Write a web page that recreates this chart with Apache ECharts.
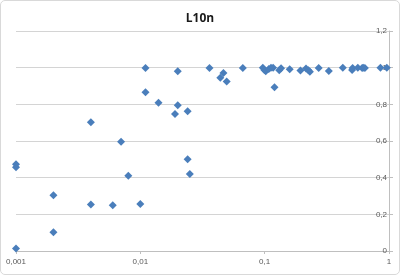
<!DOCTYPE html>
<html><head><meta charset="utf-8">
<script src="https://cdn.jsdelivr.net/npm/echarts@6/dist/echarts.min.js"></script>
<style>html,body{margin:0;padding:0;background:#fff}#c{width:400px;height:275px;box-sizing:border-box;border:1px solid #d9d9d9;border-radius:5px;overflow:hidden}</style>
</head><body><div id="c"></div>
<script>
const title = "L10n";
const xValues = [0.001,0.001,0.001,0.002,0.002,0.004,0.004,0.006,0.007,0.008,0.01,0.011,0.011,0.014,0.019,0.020,0.020,0.024,0.024,0.025,0.036,0.044,0.0466,0.0495,0.0667,0.0966,0.0995,0.102,0.108,0.1125,0.117,0.12,0.131,0.1355,0.159,0.194,0.215,0.225,0.231,0.272,0.328,0.425,0.505,0.51,0.561,0.608,0.62,0.64,0.853,0.96];
const yValues = [0.473,0.457,0.013,0.304,0.102,0.702,0.253,0.249,0.596,0.411,0.256,0.998,0.866,0.809,0.747,0.980,0.795,0.762,0.500,0.420,0.998,0.945,0.971,0.924,0.998,1.0,0.987,0.980,0.993,1.0,1.0,0.893,0.986,0.997,0.991,0.984,0.995,0.986,0.978,0.998,0.982,1.0,0.987,0.998,1.0,0.998,1.0,0.998,1.0,1.0];
const yTicks = [0,0.2,0.4,0.6,0.8,1,1.2];

const points = xValues.map((x,i)=>[x,yValues[i]]);
const fmt = v => String(+v.toFixed(3)).replace('.', ',');
const chart = echarts.init(document.getElementById('c'), null, {renderer:'canvas'});
chart.setOption({
  animation:false,
  title:{text:title,left:'center',top:7,textStyle:{fontFamily:'Open Sans',fontSize:12,fontWeight:'bold',color:'#1a1a1a'}},
  grid:{left:15,right:10,top:30,bottom:23},
  xAxis:{type:'log',logBase:10,min:0.001,max:1,
    axisLine:{show:true,onZero:false,lineStyle:{color:'#bfbfbf'}},
    axisTick:{show:true,length:3,lineStyle:{color:'#bfbfbf'}},
    minorTick:{show:false},
    splitLine:{show:false},
    axisLabel:{fontFamily:'Liberation Sans',fontSize:8,color:'#595959',margin:7,formatter:fmt}},
  yAxis:{type:'value',position:'right',min:0,max:1.2,interval:0.2,
    axisLine:{show:true,lineStyle:{color:'#bfbfbf'}},
    axisTick:{show:true,length:4,lineStyle:{color:'#bfbfbf'}},
    splitLine:{show:true,lineStyle:{color:'#d4d4d4',width:1}},
    axisLabel:{inside:true,margin:2,fontFamily:'Liberation Sans',fontSize:8,color:'#595959',formatter:v=>yTicks.includes(+v.toFixed(1))?fmt(v):''}},
  series:[{type:'scatter',data:points,symbol:'diamond',symbolSize:8,
    itemStyle:{color:'#4a7ebb',opacity:1}}]
});
</script></body></html>
